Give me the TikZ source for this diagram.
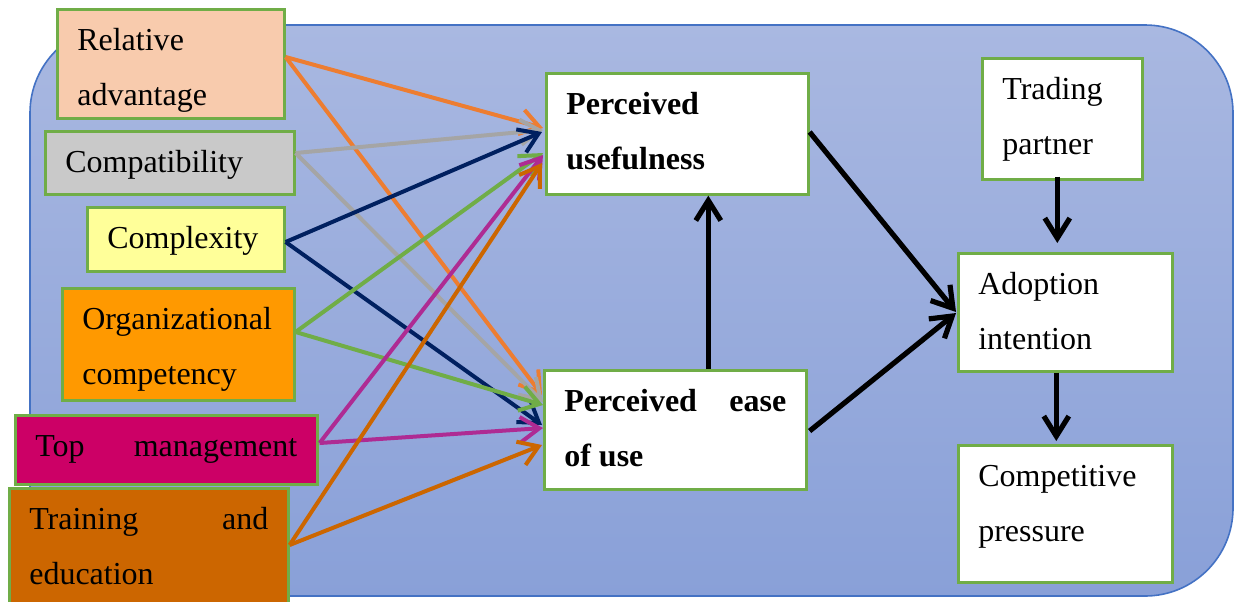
\documentclass[tikz,border=0pt]{standalone}
\usepackage{fontspec}
\setmainfont{Liberation Serif}
\usetikzlibrary{arrows.meta,calc}
\definecolor{bgtop}{HTML}{A9B8E1}
\definecolor{bgbot}{HTML}{89A0D8}
\definecolor{bgline}{HTML}{4472C4}
\definecolor{boxgreen}{HTML}{70AD47}
\definecolor{cPeach}{HTML}{F8CBAD}
\definecolor{cGrey}{HTML}{C9C9C9}
\definecolor{cYellow}{HTML}{FFFF99}
\definecolor{cOrange}{HTML}{FF9900}
\definecolor{cMag}{HTML}{CC0066}
\definecolor{cBrown}{HTML}{CC6600}
\definecolor{aOrange}{HTML}{ED7D31}
\definecolor{aGrey}{HTML}{A5A5A5}
\definecolor{aNavy}{HTML}{002060}
\definecolor{aGreen}{HTML}{70AD47}
\definecolor{aMag}{HTML}{AE2B93}
\definecolor{aBrown}{HTML}{CC6600}
\tikzset{
  box/.style={draw=boxgreen, line width=1.3pt, anchor=north west, inner xsep=10pt,
    inner ysep=0pt, text height=20.5pt, align=flush left,
    font=\fontsize{16}{27.5}\selectfont},
  carrow/.style={line width=2pt, -{Straight Barb[length=9.5pt,width=12.5pt]}},
  barrow/.style={line width=2.6pt, -{Straight Barb[length=10pt,width=12.5pt]}}
}
\begin{document}
\begin{tikzpicture}[x=0.5pt,y=-0.5pt]
\useasboundingbox (0,0) rectangle (1234,601);
\draw[draw=bgline, line width=0.8pt, top color=bgtop, bottom color=bgbot, rounded corners=44pt]
  (30,25) rectangle (1233,596);
% left boxes
\node[box, fill=cPeach, text width=93.5pt, text depth=34pt] (ra) at (56,8) {Relative\\advantage};
\node[box, fill=cGrey, text width=104.5pt, text depth=11pt] (cp) at (44,130) {Compatibility};
\node[box, fill=cYellow, text width=78.5pt, text depth=11.5pt] (cx) at (86,206) {Complexity};
\node[box, fill=cOrange, text width=96pt, text depth=35.5pt] (oc) at (61,287) {Organizational\\competency};
\node[box, fill=cMag, text width=131pt, text depth=14pt] (tm) at (14,414) {Top\hfill management};
\node[box, fill=cBrown, text width=119.5pt, text depth=38.5pt] (te) at (8,487) {Training\hfill and\\education};
% middle boxes
\node[box, fill=white, text width=111pt, text depth=40pt, font=\fontsize{16}{27.5}\selectfont\bfseries] (pu) at (545,72) {Perceived\\usefulness};
\node[box, fill=white, text width=111pt, text depth=39pt, font=\fontsize{16}{27.5}\selectfont\bfseries] (pe) at (543,369) {Perceived\hfill ease\\of use};
% right boxes
\node[box, fill=white, text width=60pt, text depth=40pt] (tp) at (981,57) {Trading\\partner};
\node[box, fill=white, text width=87pt, text depth=38.5pt] (ai) at (957,252) {Adoption\\intention};
\node[box, fill=white, text width=87pt, text depth=48pt] (cr) at (957,444) {Competitive\\pressure};
% coloured arrows
\draw[carrow, aOrange] ($(ra.north east)+(0,49)$) -- ($(pu.north west)+(-2,56)$);
\draw[carrow, aOrange] ($(ra.north east)+(0,49)$) -- ($(pe.north west)+(-1,26)$);
\draw[carrow, aGrey] ($(cp.north east)+(0,23)$) -- ($(pu.north west)+(-2,58)$);
\draw[carrow, aGrey] ($(cp.north east)+(0,23)$) -- ($(pe.north west)+(0,33)$);
\draw[carrow, aNavy] ($(cx.north east)+(0,36)$) -- ($(pu.north west)+(-3,60)$);
\draw[carrow, aNavy] ($(cx.north east)+(0,36)$) -- ($(pe.north west)+(-1,56)$);
\draw[carrow, aGreen] ($(oc.north east)+(0,45)$) -- ($(pu.north west)+(-2,81)$);
\draw[carrow, aGreen] ($(oc.north east)+(0,45)$) -- ($(pe.north west)+(0,36)$);
\draw[carrow, aMag] ($(tm.north east)+(1,29)$) -- ($(pu.north west)+(-2,83)$);
\draw[carrow, aMag] ($(tm.north east)+(1,29)$) -- ($(pe.north west)+(0,59)$);
\draw[carrow, aBrown] ($(te.north east)+(0,58)$) -- ($(pu.north west)+(-3,91)$);
\draw[carrow, aBrown] ($(te.north east)+(0,58)$) -- ($(pe.north west)+(-1,76)$);
% black arrows
\draw[barrow] ($(pu.north east)+(0,60)$) -- ($(ai.north west)+(-1,60)$);
\draw[barrow] ($(pe.north east)+(2,62)$) -- ($(ai.north west)+(-1,61)$);
\draw[barrow] ($(pe.north)+(33,0)$) -- ($(pu.south)+(31,0)$);
\draw[barrow] ($(tp.south)+(-5,-4)$) -- ($(ai.north)+(-8,-9)$);
\draw[barrow] ($(ai.south)+(-9,0)$) -- ($(cr.north)+(-9,-3)$);
\end{tikzpicture}
\end{document}
